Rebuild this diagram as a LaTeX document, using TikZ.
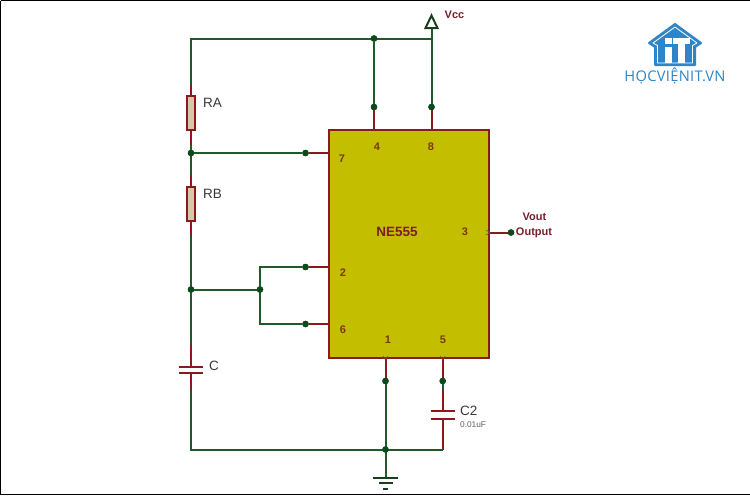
\documentclass[tikz,border=0pt]{standalone}
\usepackage{fontspec}
\setmainfont{Liberation Sans}
\newfontfamily\logofont[LetterSpace=2]{Open Sans}
\definecolor{wiregreen}{HTML}{1F5A2A}
\definecolor{dotgreen}{HTML}{0B4A1A}
\definecolor{wirered}{HTML}{8B1A1F}
\definecolor{chipfill}{HTML}{C4BE00}
\definecolor{resfill}{HTML}{D3CBA8}
\definecolor{labeltxt}{HTML}{3A3A3A}
\definecolor{signaltxt}{HTML}{7A1F2A}
\definecolor{pintxt}{HTML}{7A3A05}
\definecolor{logoblue}{HTML}{2E86C8}
\tikzset{
 gw/.style={draw=wiregreen,line width=2pt},
 rw/.style={draw=wirered,line width=2pt},
 jn/.style={circle,fill=dotgreen,inner sep=0pt,minimum size=6.5pt},
 resbox/.style={draw=wirered,fill=resfill,line width=2pt,minimum width=8.5pt,minimum height=34pt,inner sep=0pt},
 chip/.style={draw=wirered,fill=chipfill,line width=2pt,minimum width=160pt,minimum height=228pt,inner sep=0pt},
 pinlab/.style={text=pintxt,font=\fontsize{11}{12}\selectfont\bfseries,inner sep=0pt},
 siglab/.style={text=signaltxt,font=\fontsize{11}{12}\selectfont\bfseries,inner sep=0pt},
 partlab/.style={text=labeltxt,font=\fontsize{13.5}{15}\selectfont,inner sep=0pt,anchor=west},
 plate/.style={draw=wirered,line width=2pt},
 gnd/.style={draw=wiregreen!70!black,line width=2pt},
 tick/.style={draw=gray!70!black,line width=.6pt},
}
\begin{document}
\begin{tikzpicture}[x=1pt,y=-1pt]
\useasboundingbox (0,0) rectangle (750,496);
\fill[white] (0,0) rectangle (750,496);
\draw[black,line width=1.6pt] (.6,.6) -- (.6,494.6) -- (750,494.6);
\draw[black,line width=1.6pt] (.6,.6) -- (750,.6);
% chip
\node[chip] (ic) at (408.5,244) {};
\node[text=signaltxt,font=\fontsize{13.5}{15}\selectfont\bfseries,inner sep=0pt] (icname) at (397,232) {NE555};
\node[pinlab] (l4) at (377,147) {4};
\node[pinlab] (l8) at (431,147) {8};
\node[pinlab] (l7) at (342,159) {7};
\node[pinlab] (l2) at (343,273) {2};
\node[pinlab] (l6) at (343,330) {6};
\node[pinlab] (l3) at (465,232) {3};
\node[pinlab] (l1) at (388,340) {1};
\node[pinlab] (l5) at (443,340) {5};
% named points
\coordinate (p4) at (374,130);
\coordinate (p8) at (431.5,130);
\coordinate (p7) at (328,153);
\coordinate (p2) at (328,267);
\coordinate (p6) at (328,324);
\coordinate (p3) at (488,232.5);
\coordinate (p1) at (385.5,358);
\coordinate (p5) at (442.7,358);
\coordinate (tl) at (191,38.5);
\coordinate (vt) at (431.5,38.5);
\coordinate (vtip) at (431.5,28);
\coordinate (ra1) at (191,85);
\coordinate (ra2) at (191,145);
\coordinate (rb1) at (191,175);
\coordinate (rb2) at (191,236);
\coordinate (c1) at (191,345);
\coordinate (ctop) at (191,366.5);
\coordinate (cbot) at (191,373);
\coordinate (c2) at (191,390);
\coordinate (bl) at (191,449.5);
\coordinate (k2) at (260,267);
\coordinate (k6) at (260,324);
\coordinate (c2a) at (442.7,390);
\coordinate (c2t) at (442.7,411);
\coordinate (c2b) at (442.7,419);
\coordinate (br) at (442.7,449.5);
\coordinate (gt) at (385.5,477.5);
% junctions
\node[jn] (j4top) at (374,38.5) {};
\node[jn] (j4) at (374,107) {};
\node[jn] (j8) at (431.5,107) {};
\node[jn] (ja) at (191,153) {};
\node[jn] (j7) at (305.5,153) {};
\node[jn] (jb) at (191,289.5) {};
\node[jn] (jm) at (260,289.5) {};
\node[jn] (j2) at (305.5,267) {};
\node[jn] (j6) at (305.5,324) {};
\node[jn] (j3) at (511,232.5) {};
\node[jn] (j1) at (385.5,381) {};
\node[jn] (j5) at (442.7,381) {};
\node[jn] (jg) at (385.5,449.5) {};
% parts
\node[resbox] (RA) at (191,113) {};
\node[resbox] (RB) at (191,204) {};
% red leads
\draw[rw] (p4) -- (j4);
\draw[rw] (p8) -- (j8);
\draw[rw] (p7) -- (j7);
\draw[rw] (p2) -- (j2);
\draw[rw] (p6) -- (j6);
\draw[rw] (p3) -- (j3);
\draw[rw] (p1) -- (j1);
\draw[rw] (p5) -- (j5);
\draw[rw] (ra1) -- (RA.north);
\draw[rw] (RA.south) -- (ra2);
\draw[rw] (rb1) -- (RB.north);
\draw[rw] (RB.south) -- (rb2);
\draw[rw] (c1) -- (ctop);
\draw[rw] (cbot) -- (c2);
\draw[rw] (c2a) -- (c2t);
\draw[rw] (c2b) -- (br);
% green wires
\draw[gw] (ra1) -- (tl) -- (vt);
\draw[gw] (j4top) -- (j4);
\draw[gw] (vtip) -- (j8);
\draw[gw] (ra2) -- (rb1);
\draw[gw] (ja) -- (j7);
\draw[gw] (rb2) -- (c1);
\draw[gw] (jb) -- (jm);
\draw[gw] (j2) -- (k2) -- (k6) -- (j6);
\draw[gw] (c2) -- (bl) -- (br);
\draw[gw] (j1) -- (gt);
\draw[gw] (j5) -- (c2a);
% redraw junctions over wires
\foreach \j in {j4top,j4,j8,ja,j7,jb,jm,j2,j6,j3,j1,j5,jg}
  \fill[dotgreen] (\j) circle (3.2pt);
% power arrow
\draw[gnd,fill=white,line join=miter] (vtip) -- (425.5,28) -- (431.5,15.5) -- (437.5,28) -- cycle;
% C plates
\draw[plate] (179,366.5) -- (203,366.5);
\draw[plate] (179,373) -- (203,373);
\draw[plate] (430.7,411) -- (454.7,411);
\draw[plate] (430.7,419) -- (454.7,419);
% ground
\draw[gnd] (372.7,477.5) -- (397.7,477.5);
\draw[gnd] (379,483) -- (392.7,483);
\draw[gnd] (383,489) -- (388,489);
% pin ticks
\draw[tick] (383,356) -- (385.5,360) -- (388,356);
\draw[tick] (440.2,356) -- (442.7,360) -- (445.2,356);
\draw[tick] (486,230) -- (490,232.5) -- (486,235);
% labels
\node[partlab] (tRA) at (203,103) {RA};
\node[partlab] (tRB) at (203,194) {RB};
\node[partlab] (tC) at (209,366) {C};
\node[partlab] (tC2) at (460,410.5) {C2};
\node[inner sep=0pt,anchor=west,text=labeltxt!80,font=\fontsize{8.3}{10}\selectfont] (tC2v) at (460,425) {0.01uF};
\node[siglab] (tV) at (454.5,15) {Vcc};
\node[siglab] (tVo) at (534.5,216.5) {Vout};
\node[siglab] (tOut) at (534,232.5) {Output};
% logo
\fill[logoblue,draw=logoblue,line width=2pt,line join=round] (675,24) -- (701,43) -- (695,47) -- (695,65) -- (655,65) -- (655,47) -- (649,43) -- cycle;
\draw[white,line width=.8pt,line join=round] (675,27) -- (697,43) -- (692.5,45.5) -- (692.5,63) -- (657.5,63) -- (657.5,45.5) -- (653,43) -- cycle;
\fill[white] (665,38.3) rectangle (671.7,44.3);
\fill[white] (665,46.7) rectangle (671.7,62.7);
\fill[white] (673.3,38.3) rectangle (690,44.3);
\fill[white] (678.3,44.3) rectangle (685,62.7);
\node[text=logoblue,inner sep=0pt,font=\logofont\fontsize{14.7}{16}\selectfont] (logo) at (675,76) {HỌCVIỆNIT.VN};
\end{tikzpicture}
\end{document}
